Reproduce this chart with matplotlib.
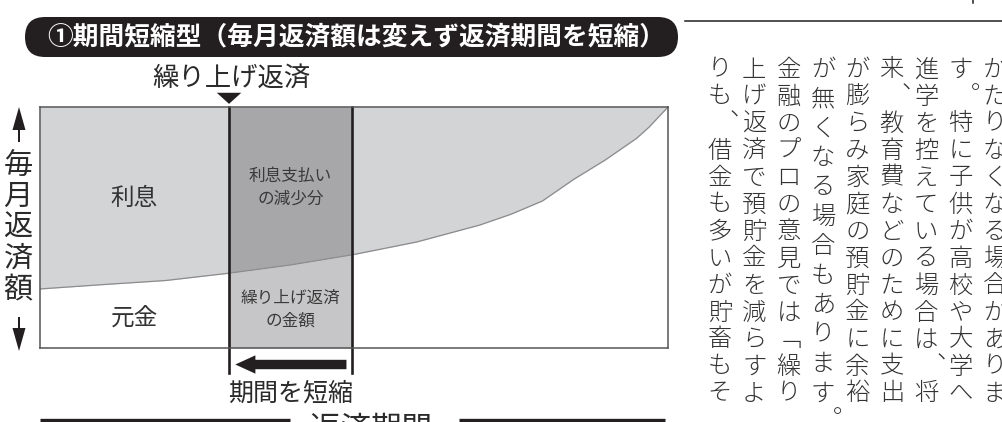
import numpy as np
import matplotlib.pyplot as plt
from matplotlib.patches import FancyBboxPatch, FancyArrow, Polygon

plt.rcParams['font.family'] = ['Noto Sans CJK JP', 'DejaVu Sans']

W, H = 1002, 422

# 返済期間（0〜100）と毎月返済額に占める元金の割合（0〜100）
period = [0, 10, 20, 30, 40, 50, 60, 70, 75, 80, 85, 90, 95, 97, 100]
principal = [24.5, 26.3, 28.0, 31.0, 34.5, 38.8, 44.0, 51.0, 55.5, 61.0, 70.0, 78.0, 87.0, 91.7, 100]

# 繰り上げ返済で短縮される期間
prepay_start, prepay_end = 30.1, 49.7

title = "①期間短縮型（毎月返済額は変えず返済期間を短縮）"
label_interest = "利息"
label_principal = "元金"
label_cut = "利息支払い\nの減少分"
label_prepay_amt = "繰り上げ返済\nの金額"
label_prepay = "繰り上げ返済"
label_shorten = "期間を短縮"
label_y = "毎月返済額"
label_x = "返済期間"

# 右側の本文（右の列から）
body_cols = [
    "かたりなくなる場合がありま",
    "す。特に子供が高校や大学へ",
    "進学を控えている場合は、将",
    "来、教育費などのために支出",
    "が膨らみ家庭の預貯金に余裕",
    "が無くなる場合もあります。",
    "金融のプロの意見では「繰り",
    "上げ返済で預貯金を減らすよ",
    "りも、借金も多いが貯畜もそ",
]

c_light = '#d3d4d6'
c_dark = '#a7a7a9'
c_mid = '#c6c6c8'
c_ink = '#231f20'

fig = plt.figure(figsize=(W / 100, H / 100), dpi=100)

# --- 図の本体 ---
ax = fig.add_axes([40 / W, (H - 348) / H, 628 / W, 241 / H])
ax.set_xlim(0, 100)
ax.set_ylim(0, 100)
ax.set_xticks([])
ax.set_yticks([])
for s in ax.spines.values():
    s.set_color('#555555')
    s.set_linewidth(1.1)

t = np.array(period, dtype=float)
p = np.array(principal, dtype=float)
ax.fill_between(t, p, 100, color=c_light, lw=0)

inside = (t > prepay_start) & (t < prepay_end)
bt = np.concatenate([[prepay_start], t[inside], [prepay_end]])
bp = np.interp(bt, t, p)
ax.fill_between(bt, bp, 100, color=c_dark, lw=0)
ax.fill_between(bt, 0, bp, color=c_mid, lw=0)
ax.plot(t, p, color='#8c8c8e', lw=0.9)

for xv in (prepay_start, prepay_end):
    ax.axvline(xv, ymin=-0.104, ymax=1, color=c_ink, lw=1.9, clip_on=False)

ax.add_patch(FancyArrow(prepay_end - 0.9, -6.85, -(prepay_end - prepay_start - 1.9), 0,
                        width=3.9, head_width=7.6, head_length=3.2,
                        length_includes_head=True, color=c_ink, lw=0, clip_on=False))
ax.add_patch(Polygon([(prepay_start - 1.95, 105.9), (prepay_start + 1.95, 105.9),
                      (prepay_start, 101.3)], closed=True, color=c_ink, lw=0, clip_on=False))

mid = (prepay_start + prepay_end) / 2
ax.text(15.0, 62.2, label_interest, ha='center', va='center', fontsize=17, color='#333333')
ax.text(15.0, 12.4, label_principal, ha='center', va='center', fontsize=17, color='#333333')
ax.text(mid, 66.5, label_cut, ha='center', va='center', fontsize=12, color='#3a3a3a',
        linespacing=1.45)
ax.text(mid, 15.8, label_prepay_amt, ha='center', va='center', fontsize=12, color='#3a3a3a',
        linespacing=1.45)
ax.text(mid, -18.9, label_shorten, ha='center', va='center', fontsize=18, color='#2a2a2a',
        clip_on=False)

# --- 重ね描き（ピクセル座標） ---
ov = fig.add_axes([0, 0, 1, 1], zorder=5)
ov.set_xlim(0, W)
ov.set_ylim(H, 0)
ov.axis('off')
ov.patch.set_alpha(0)

ov.add_patch(FancyBboxPatch((25, 17), 653, 40, boxstyle="round,pad=0,rounding_size=20",
                            fc=c_ink, ec='none'))
ov.text(356, 37, title, ha='center', va='center', fontsize=18.5, color='white',
        fontweight='bold')
ov.text(231, 78, label_prepay, ha='center', va='center', fontsize=19, color='#2a2a2a')

# 縦軸ラベルと矢印
for i, ch in enumerate(label_y):
    ov.text(18, 166 + i * 31, ch, ha='center', va='center', fontsize=21, color='#2a2a2a')
ov.add_patch(FancyArrow(19, 142, 0, -35, width=2, head_width=13, head_length=23,
                        length_includes_head=True, color=c_ink, lw=0))
ov.add_patch(FancyArrow(19, 317, 0, 34, width=2, head_width=13, head_length=23,
                        length_includes_head=True, color=c_ink, lw=0))

# 横軸ラベル
ov.plot([40, 290], [420, 420], color=c_ink, lw=2.4, solid_capstyle='butt')
ov.plot([459, 665], [420, 420], color=c_ink, lw=2.4, solid_capstyle='butt')
ov.text(371, 429, label_x, ha='center', va='center', fontsize=22, color='#2a2a2a')

# 右側の本文（縦書き）
ov.plot([685, W], [21, 21], color=c_ink, lw=1.1)
ov.plot([973, 973], [0, 3], color=c_ink, lw=1.1)
vert = {'、': '︑', '。': '︒', '「': '﹁'}
pitch = 27.0
for j, line in enumerate(body_cols):
    x = 995 - j * 34.4
    if line.endswith('。') and not line.endswith('す。特'):
        body, hang = line[:-1], line[-1]
    else:
        body, hang = line, ''
    step = pitch * 12 / (len(body) - 1)
    chars = [(c, 70 + i * step) for i, c in enumerate(body)]
    if hang:
        chars.append((hang, 70 + 12 * pitch + pitch))
    for c, y in chars:
        dx = 7 if c in '、。' else 0
        ov.text(x + dx, y, vert.get(c, c), ha='center', va='center', fontsize=17.5,
                color='#333333', fontweight='light')

fig.savefig('out.png', dpi=100)
